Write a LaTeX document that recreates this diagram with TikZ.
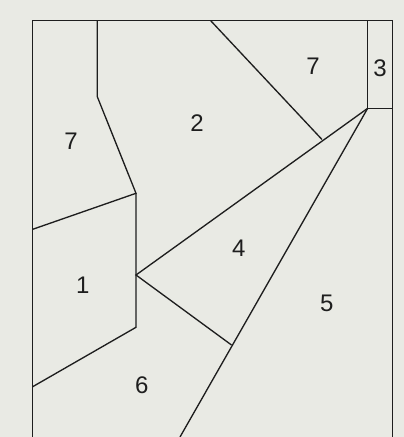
\documentclass[tikz,border=0pt]{standalone}
\usepackage{fontspec}
\setmainfont{Liberation Sans}
\usepackage{tikz}
\definecolor{paper}{HTML}{E9EAE4}
\definecolor{ink}{HTML}{1E1E1E}
\tikzset{
  wall/.style={line width=1pt, draw=ink, line join=miter},
  zone/.style={font=\fontsize{18}{21}\selectfont, text=ink, inner sep=0pt}
}

\begin{document}
\begin{tikzpicture}[x=0.75pt,y=0.75pt]
  \fill[paper] (0,0) rectangle (404,437);
  \useasboundingbox (0,0) rectangle (404,437);
  % frame corners
  \coordinate (bl) at (32.7,0);
  \coordinate (tl) at (32.7,416.3);
  \coordinate (tr) at (392.3,416.3);
  \coordinate (br) at (392.3,0);
  % corner points of the zones
  \coordinate (a) at (97.3,416.3);
  \coordinate (b) at (97.3,340.3);
  \coordinate (c) at (136,243.7);
  \coordinate (d) at (32.7,207.7);
  \coordinate (e) at (136,162);
  \coordinate (f) at (136,109.7);
  \coordinate (g) at (32.7,50.3);
  \coordinate (h) at (210.7,416.3);
  \coordinate (p) at (367.7,328.7);
  \coordinate (q) at (367.7,416.3);
  \coordinate (r) at (392.3,328.7);
  \coordinate (k) at (322,297.5);
  \coordinate (s) at (180,0);
  \coordinate (m) at (231.5,92);
  % outline
  \draw[wall] (bl) -- (tl) -- (tr) -- (br);
  % partitions
  \draw[wall] (a) -- (b) -- (c) -- (d);
  \draw[wall] (c) -- (f) -- (g);
  \draw[wall] (h) -- (k);
  \draw[wall] (q) -- (p) -- (r);
  \draw[wall] (p) -- (e) -- (m);
  \draw[wall] (p) -- (s);
  % zone numbers
  \node[zone] (z7a) at (71,295.3) {7};
  \node[zone] (z2) at (197,314.3) {2};
  \node[zone] (z7b) at (313,370.3) {7};
  \node[zone] (z3) at (380,368.7) {3};
  \node[zone] (z4) at (238.7,188.7) {4};
  \node[zone] (z1) at (82.7,152) {1};
  \node[zone] (z5) at (326.7,133.7) {5};
  \node[zone] (z6) at (141.7,52) {6};
\end{tikzpicture}
\end{document}
